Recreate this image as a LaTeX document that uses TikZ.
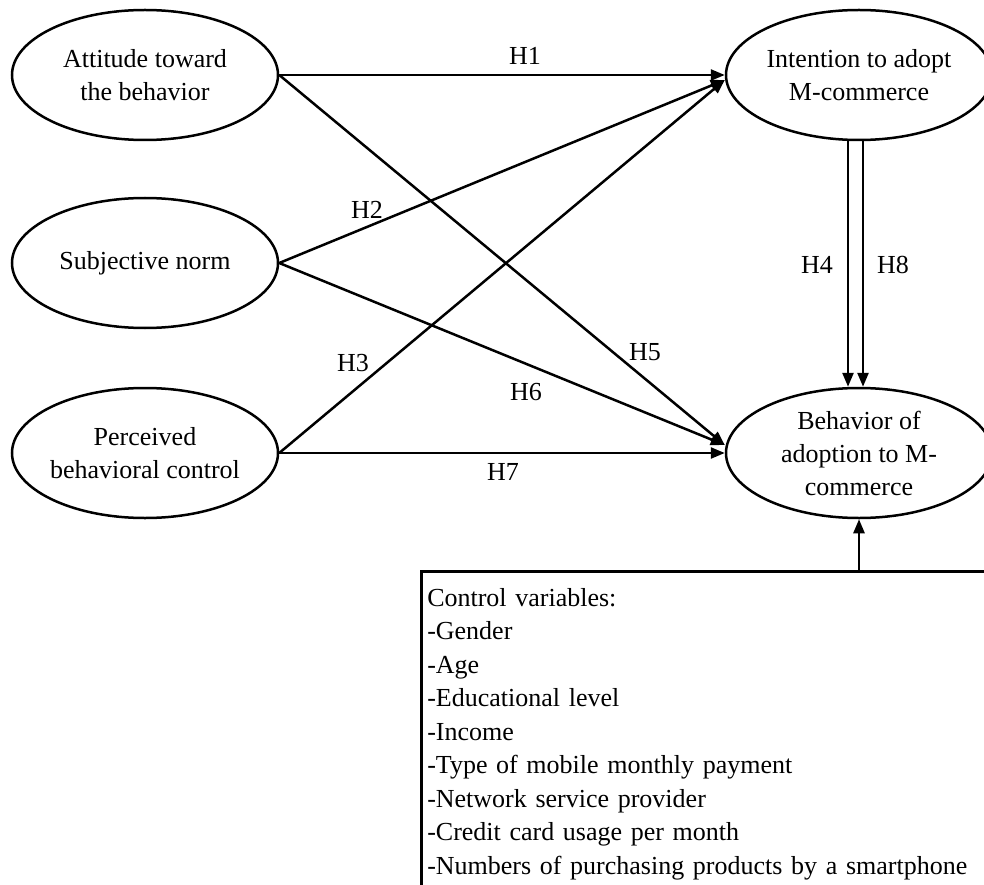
\documentclass[tikz,border=0pt]{standalone}
\usepackage{fontspec}
\setmainfont{Liberation Serif}
\usetikzlibrary{shapes.geometric,arrows.meta}
\begin{document}
\begin{tikzpicture}[x=1pt,y=-1pt,
  ell/.style={draw,ellipse,line width=2.5pt,minimum width=266pt,minimum height=130pt,
    inner xsep=-3pt,inner ysep=0pt,align=center,font=\fontsize{26}{33}\selectfont},
  arr/.style={line width=2.5pt,-{Triangle[length=14pt,width=11pt]}},
  lbl/.style={inner sep=0pt,font=\fontsize{26}{33}\selectfont},
  box/.style={draw,line width=2.5pt,anchor=north west,align=left,text width=560pt,
    inner xsep=6pt,inner ysep=17pt,font=\fontsize{26}{33.5}\selectfont}]
\useasboundingbox (0,0) rectangle (984,885);
\node[ell] (att) at (145,75) {Attitude toward\\the behavior};
\node[ell] (sub) at (145,263) {Subjective norm};
\node[ell] (pbc) at (145,453) {Perceived\\behavioral control};
\node[ell] (int) at (859,75) {Intention to adopt\\M-commerce};
\node[ell] (beh) at (859,453) {Behavior of\\adoption to M-\\commerce};
\node[box] (ctl) at (420,570) {Control variables:\\-Gender\\-Age\\-Educational level\\-Income\\-Type of mobile monthly payment\\-Network service provider\\-Credit card usage per month\\-Numbers of purchasing products by a smartphone\\[2pt]\strut};
\draw[arr] (att.east) -- (int.west);
\draw[arr] (sub.east) -- ([yshift=-5pt]int.west);
\draw[arr] (pbc.east) -- ([yshift=-5pt]int.west);
\draw[arr] (att.east) -- ([yshift=8pt]beh.west);
\draw[arr] (sub.east) -- ([yshift=8pt]beh.west);
\draw[arr] (pbc.east) -- (beh.west);
\draw[arr] ([xshift=-11pt]int.south) -- ([xshift=-11pt]beh.north);
\draw[arr] ([xshift=4pt]int.south) -- ([xshift=4pt]beh.north);
\draw[arr] (beh.south |- ctl.north) -- (beh.south);
\node[lbl] (h1) at (525,56) {H1};
\node[lbl] (h2) at (367,210) {H2};
\node[lbl] (h3) at (353,363) {H3};
\node[lbl] (h4) at (817,265) {H4};
\node[lbl] (h5) at (645,352) {H5};
\node[lbl] (h6) at (526,392) {H6};
\node[lbl] (h7) at (503,472) {H7};
\node[lbl] (h8) at (893,265) {H8};
\end{tikzpicture}
\end{document}
